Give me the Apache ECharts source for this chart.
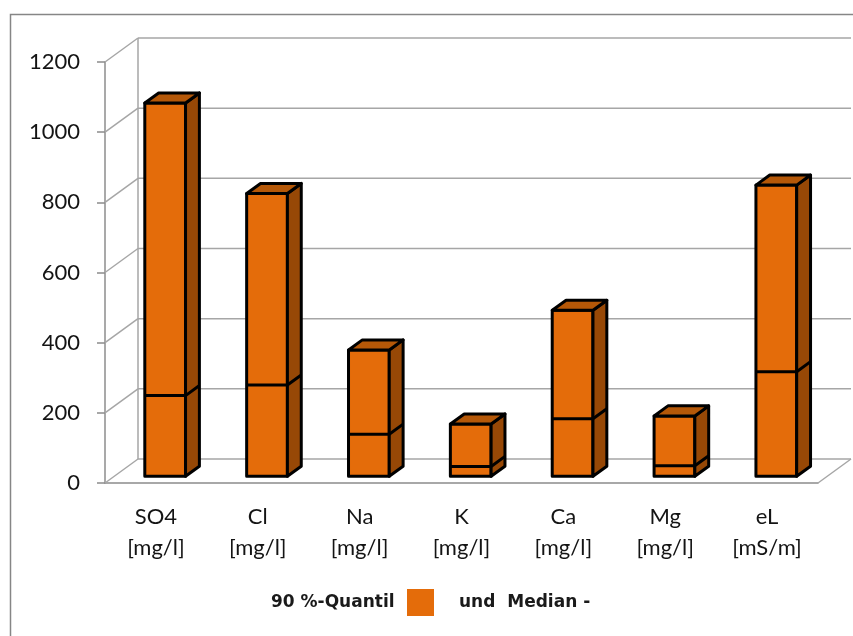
<!DOCTYPE html>
<html>
<head>
<meta charset="utf-8">
<title>90%-Quantil und Median</title>
<script src="https://cdn.jsdelivr.net/npm/echarts/dist/echarts.min.js"></script>
<style>
    html, body { margin: 0; padding: 0; background: #fff; }
    #echartsMain { width: 853px; height: 636px; }
</style>
</head>
<body>
<div id="echartsMain"></div>
<script>
// Daten
const categories = ['SO4\n[mg/l]', 'Cl\n[mg/l]', 'Na\n[mg/l]', 'K\n[mg/l]', 'Ca\n[mg/l]', 'Mg\n[mg/l]', 'eL\n[mS/m]'];
const quantil90 = [1064, 806, 360, 149, 473, 172, 830];
const median = [230, 260, 120, 28, 164, 30, 298];
const yTicks = [0, 200, 400, 600, 800, 1000, 1200];

// Farben / 3D-Versatz
const FRONT = '#E46C0A';
const SIDE = '#974806';
const TOP = '#B55808';
const WALL = '#a6a6a6';
const DX = 33, DY = -24;       // Tiefe der Rückwand
const F0 = 0.28, F1 = 0.70;    // Säule liegt zwischen diesen Tiefenanteilen

function renderWall(params, api) {
    let cs = params.coordSys;
    let x0 = cs.x, x1 = cs.x + cs.width;
    let v = api.value(1);
    let y = api.coord([0, v])[1];
    let style = { stroke: WALL, lineWidth: 1.5, fill: null };
    let children = [
        { type: 'line', shape: { x1: x0 + DX, y1: y + DY, x2: x1 + DX, y2: y + DY }, style: style },
        { type: 'line', shape: { x1: x0, y1: y, x2: x0 + DX, y2: y + DY }, style: style }
    ];
    if (params.dataIndex === 0) {
        let yMax = api.coord([0, yTicks[yTicks.length - 1]])[1];
        // linke Kante der Rückwand und rechte Bodenkante
        children.push({ type: 'line', shape: { x1: x0 + DX, y1: y + DY, x2: x0 + DX, y2: yMax + DY }, style: style });
        children.push({ type: 'line', shape: { x1: x1, y1: y, x2: x1 + DX, y2: y + DY }, style: style });
    }
    return { type: 'group', children: children };
}

function renderBox(params, api) {
    let i = api.value(0);
    let base = api.coord([i, 0]);
    let top = api.coord([i, api.value(1)])[1];
    let med = api.coord([i, api.value(2)])[1];
    let bw = api.size([1, 0])[0] * 0.4;
    let fx = F0 * DX, fy = F0 * DY;
    let ddx = (F1 - F0) * DX, ddy = (F1 - F0) * DY;
    let L = base[0] - bw / 2 + fx, R = L + bw;
    let yb = base[1] + fy, yt = top + fy, ym = med + fy;
    let line = { stroke: '#000', lineWidth: 3, lineJoin: 'round' };
    return {
        type: 'group',
        children: [
            { type: 'rect', shape: { x: L, y: yt, width: bw, height: yb - yt }, style: Object.assign({ fill: FRONT }, line) },
            { type: 'polygon', shape: { points: [[R, yb], [R, yt], [R + ddx, yt + ddy], [R + ddx, yb + ddy]] }, style: Object.assign({ fill: SIDE }, line) },
            { type: 'polygon', shape: { points: [[L, yt], [R, yt], [R + ddx, yt + ddy], [L + ddx, yt + ddy]] }, style: Object.assign({ fill: TOP }, line) },
            { type: 'polyline', shape: { points: [[L, ym], [R, ym], [R + ddx, ym + ddy]] }, style: Object.assign({ fill: null }, line) }
        ]
    };
}

let myChart = echarts.init(document.getElementById('echartsMain'));
let option = {
    animation: false,
    grid: { left: 105, right: 35, top: 62, bottom: 153 },
    xAxis: {
        type: 'category',
        data: categories,
        axisLine: { lineStyle: { color: '#8c8c8c', width: 1.5 } },
        axisTick: { length: 7, lineStyle: { color: '#8c8c8c', width: 1.5 } },
        axisLabel: { fontFamily: 'Lato', fontSize: 22, color: '#141414', lineHeight: 31, margin: 18 }
    },
    yAxis: {
        type: 'value',
        min: 0,
        max: 1200,
        interval: 200,
        axisLine: { show: true, lineStyle: { color: '#8c8c8c', width: 1.5 } },
        axisTick: { show: true, length: 8, lineStyle: { color: '#8c8c8c', width: 1.5 } },
        splitLine: { show: false },
        axisLabel: {
            fontFamily: 'Lato', fontSize: 22, color: '#141414', margin: 25,
            formatter: function (v) { return String(v); }
        }
    },
    series: [
        {
            type: 'custom',
            silent: true,
            z: 1,
            renderItem: renderWall,
            encode: { x: 0, y: 1 },
            data: yTicks.map(function (v) { return [0, v]; })
        },
        {
            type: 'custom',
            name: '90 %-Quantil',
            z: 3,
            renderItem: renderBox,
            encode: { x: 0, y: [1, 2] },
            data: quantil90.map(function (q, i) { return [i, q, median[i]]; })
        }
    ],
    graphic: [
        // Rahmen
        { type: 'rect', left: 8, top: 12, shape: { width: 860, height: 640 }, style: { fill: null, stroke: '#868686', lineWidth: 1.5 }, silent: true },
        // Legende
        { type: 'text', x: 271, y: 603, style: { text: '90 %-Quantil', font: 'bold 17px "DejaVu Sans"', fill: '#1a1a1a', verticalAlign: 'middle' } },
        { type: 'rect', shape: { x: 407, y: 589, width: 27, height: 27 }, style: { fill: FRONT } },
        { type: 'text', x: 459, y: 603, style: { text: 'und  Median -', font: 'bold 17px "DejaVu Sans"', fill: '#1a1a1a', verticalAlign: 'middle' } }
    ]
};
myChart.setOption(option);
</script>
</body>
</html>
